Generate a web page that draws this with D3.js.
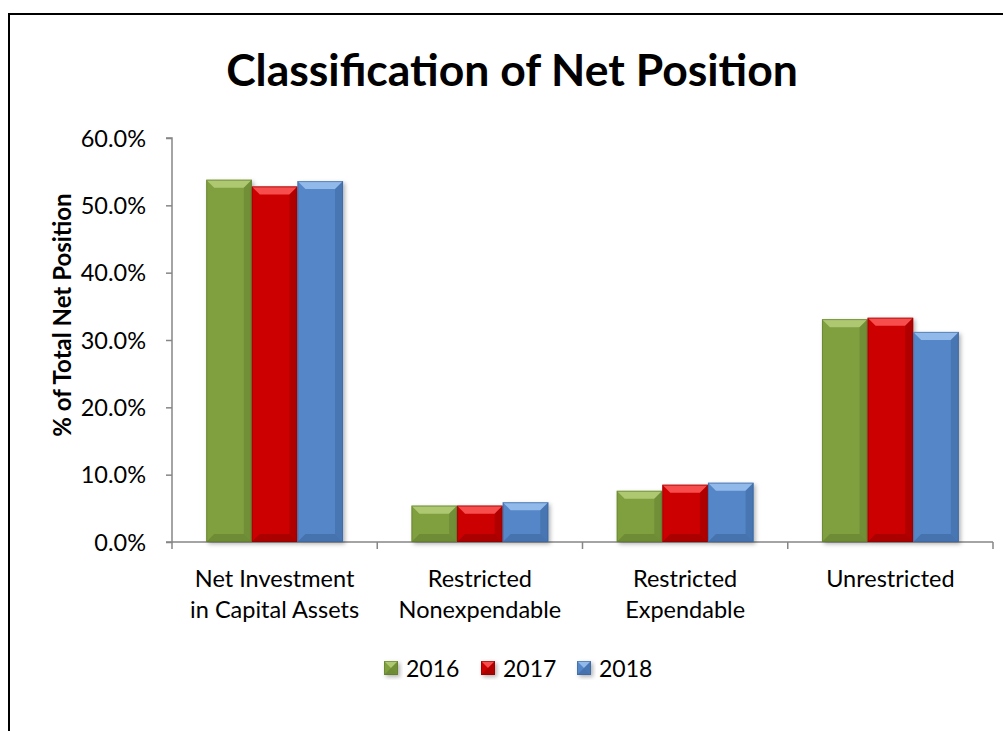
<!DOCTYPE html>
<html><head><meta charset="utf-8">
<script src="https://cdn.jsdelivr.net/npm/d3@7"></script>
<style>body{margin:0;background:#fff}svg{display:block}</style>
</head><body>
<svg id="chart" width="1003" height="731"></svg>
<script>
const categories = [["Net Investment","in Capital Assets"],["Restricted","Nonexpendable"],["Restricted","Expendable"],["Unrestricted"]];
const seriesNames = ["2016","2017","2018"];
const values2016 = [53.8, 5.4, 7.6, 33.1];
const values2017 = [52.8, 5.4, 8.5, 33.3];
const values2018 = [53.6, 5.9, 8.8, 31.2];
const yTicks = [0,10,20,30,40,50,60];
const colors = ["#80A040","#CC0000","#5487C8"];
const lightColors = ["#B5CF7A","#FF5A5A","#9CC2F0"];
const darkColors = ["#5E7A2C","#8E0000","#3A6299"];

(function(){
const seriesVals = [values2016, values2017, values2018];
const svg = d3.select("#chart");
const font = "Lato, 'Open Sans', sans-serif";

svg.append("path").attr("d","M9,731 L9,14 L1003,14").attr("fill","none").attr("stroke","#000").attr("stroke-width",2);

const pL = 172, pR = 993, pT = 138, pB = 542;
const x0 = d3.scaleBand().domain(d3.range(categories.length)).range([pL,pR]).paddingInner(0).paddingOuter(0);
const gapFrac = 68.4/205.25;
const x1 = d3.scaleBand().domain(d3.range(seriesNames.length)).range([x0.bandwidth()*gapFrac/2, x0.bandwidth()*(1-gapFrac/2)]).padding(0);
const y = d3.scaleLinear().domain([0,60]).range([pB, pT]);

const defs = svg.append("defs");
const f = defs.append("filter").attr("id","sh").attr("x","-20%").attr("y","-20%").attr("width","150%").attr("height","150%");
f.append("feDropShadow").attr("dx",2).attr("dy",2).attr("stdDeviation",2).attr("flood-color","#000").attr("flood-opacity",0.3);

svg.append("text").attr("x",512).attr("y",86).attr("text-anchor","middle")
  .attr("font-family",font).attr("font-weight","bold").attr("font-size",44.5).attr("fill","#000")
  .text("Classification of Net Position");

const yAxis = d3.axisLeft(y).tickValues(yTicks).tickSize(6).tickFormat(d => d.toFixed(1)+"%");
const gy = svg.append("g").attr("transform",`translate(${pL},0)`).call(yAxis);
gy.select(".domain").attr("stroke","#868686").attr("stroke-width",1.5).attr("d",`M-6,${pT}H0V${pB}H-6`);
gy.selectAll(".tick line").attr("stroke","#868686").attr("stroke-width",1.5);
gy.selectAll(".tick text").attr("font-family",font).attr("font-size",23.5).attr("fill","#000").attr("x",-26).attr("dy","0.35em");

const gx = svg.append("g").attr("transform",`translate(0,${pB})`);
gx.append("line").attr("x1",pL).attr("x2",pR).attr("y1",0).attr("y2",0).attr("stroke","#868686").attr("stroke-width",1.5);
const bounds = d3.range(categories.length+1).map(i => i<categories.length ? x0(i) : x0(categories.length-1)+x0.bandwidth());
gx.selectAll(".xt").data(bounds).join("line").attr("x1",d=>d).attr("x2",d=>d).attr("y1",0).attr("y2",7).attr("stroke","#868686").attr("stroke-width",1.5);
categories.forEach((lines,i)=>{
  const t = svg.append("text").attr("text-anchor","middle").attr("font-family",font).attr("font-size",23.5).attr("fill","#000");
  lines.forEach((ln,j)=>{
    t.append("tspan").attr("x",x0(i)+x0.bandwidth()/2).attr("y",587+j*31).text(ln);
  });
});

svg.append("text").attr("transform",`translate(71,315) rotate(-90)`).attr("text-anchor","middle")
  .attr("font-family",font).attr("font-weight","bold").attr("font-size",24).attr("fill","#000")
  .text("% of Total Net Position");

function bevelBar(g, x, yy, w, h, s){
  const b = Math.min(8, h/2, w/2);
  const gg = g.append("g");
  gg.append("rect").attr("x",x).attr("y",yy).attr("width",w).attr("height",h).attr("fill",colors[s]).attr("filter","url(#sh)");
  gg.append("polygon").attr("points",`${x},${yy} ${x+w},${yy} ${x+w-b},${yy+b} ${x+b},${yy+b}`).attr("fill",lightColors[s]).attr("opacity",0.85);
  gg.append("polygon").attr("points",`${x+w},${yy} ${x+w-b},${yy+b} ${x+w-b},${yy+h-b} ${x+w},${yy+h}`).attr("fill",darkColors[s]).attr("opacity",0.45);
  gg.append("polygon").attr("points",`${x},${yy+h} ${x+b},${yy+h-b} ${x+w-b},${yy+h-b} ${x+w},${yy+h}`).attr("fill",darkColors[s]).attr("opacity",0.55);
  gg.append("rect").attr("x",x+0.5).attr("y",yy+0.5).attr("width",w-1).attr("height",h-1).attr("fill","none").attr("stroke",darkColors[s]).attr("stroke-width",1).attr("opacity",0.6);
}

const barsG = svg.append("g");
categories.forEach((c,i)=>{
  seriesVals.forEach((vals,s)=>{
    const bx = x0(i)+x1(s);
    const by = y(vals[i]);
    bevelBar(barsG, bx, by, x1.bandwidth(), pB-by, s);
  });
});

const legendX = [384, 481, 577];
seriesNames.forEach((n,s)=>{
  const lg = svg.append("g");
  bevelBar(lg, legendX[s], 661, 14, 14, s);
  lg.append("text").attr("x",legendX[s]+22).attr("y",677).attr("font-family",font).attr("font-size",23).attr("fill","#000").text(n);
});
})();
</script>
</body></html>
